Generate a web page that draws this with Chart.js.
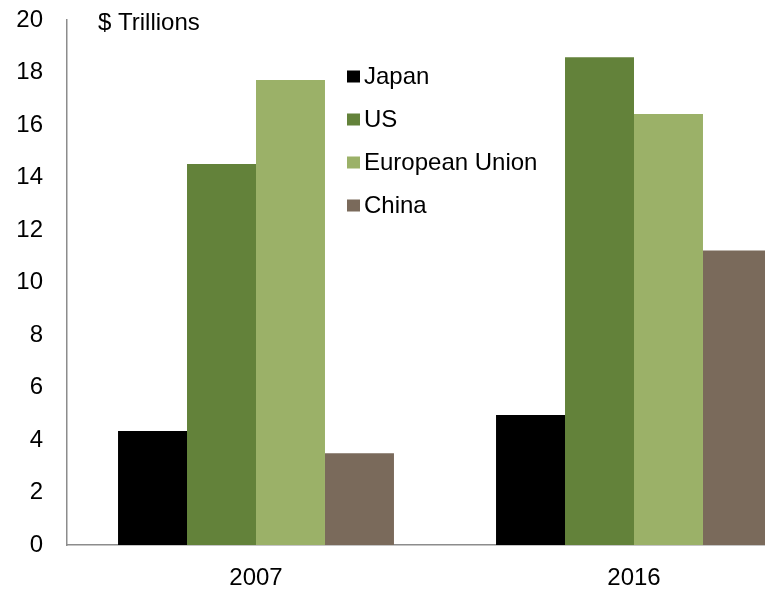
<!DOCTYPE html>
<html>
<head>
<meta charset="utf-8">
<script src="https://cdn.jsdelivr.net/npm/chart.js@4/dist/chart.umd.min.js"></script>
<style>
  html, body { margin: 0; padding: 0; background: #fff; overflow: hidden; }
  #wrap { position: relative; width: 830px; height: 589px; }
</style>
</head>
<body>
<div id="wrap"><canvas id="gdp"></canvas></div>
<script>
    const years = ['2007', '2016'];
    const japan = [4.34, 4.95];
    const us = [14.51, 18.58];
    const eu = [17.71, 16.42];
    const china = [3.50, 11.22];
    const yTicks = [0, 2, 4, 6, 8, 10, 12, 14, 16, 18, 20];

    const seriesNames = ['Japan', 'US', 'European Union', 'China'];
    const seriesColors = ['#000000', '#63823a', '#9bb168', '#7a6a5b'];
    const seriesData = [japan, us, eu, china];

    const FONT = 'Liberation Sans, Arial, sans-serif';
    const axisGray = '#8c8c8c';

    // legend and unit caption sit inside the plot, drawn by hand
    const overlay = {
        id: 'overlay',
        afterDraw(chart) {
            const ctx = chart.ctx;
            ctx.save();
            ctx.font = '24px ' + FONT;
            ctx.fillStyle = '#000';
            ctx.textBaseline = 'middle';
            ctx.fillText('$ Trillions', 98, 23);
            chart.data.datasets.forEach((ds, i) => {
                const y = 76.5 + i * 43;
                ctx.fillStyle = ds.backgroundColor;
                ctx.fillRect(347, y - 6, 13, 12);
                ctx.fillStyle = '#000';
                ctx.fillText(ds.label, 364, y + 1);
            });
            ctx.restore();
        }
    };

    new Chart(document.getElementById('gdp'), {
        type: 'bar',
        data: {
            labels: years,
            datasets: seriesNames.map((name, i) => ({
                label: name,
                data: seriesData[i],
                backgroundColor: seriesColors[i],
                borderWidth: 0,
                barPercentage: 1,
                categoryPercentage: 0.73,
            })),
        },
        options: {
            responsive: true,
            maintainAspectRatio: false,
            animation: false,
            layout: { padding: { top: 20, right: 7, left: 0, bottom: 0 } },
            plugins: {
                legend: { display: false },
                tooltip: { enabled: false },
            },
            scales: {
                x: {
                    grid: { display: false, drawTicks: false },
                    border: { display: true, color: axisGray, width: 1.5 },
                    ticks: { color: '#000', font: { family: FONT, size: 24 }, padding: 19 },
                    afterFit: s => { s.height = 44; },
                },
                y: {
                    min: 0,
                    max: 20,
                    afterBuildTicks: s => { s.ticks = yTicks.map(v => ({ value: v })); },
                    grid: { display: false, drawTicks: false },
                    border: { display: true, color: axisGray, width: 1.5 },
                    ticks: { color: '#000', font: { family: FONT, size: 24 }, padding: 24 },
                    // keep the plot top flush with the "20" label instead of padding for it
                    afterFit: s => { s.width = 67; s.paddingTop = 0; s.paddingBottom = 0; },
                },
            },
        },
        plugins: [overlay],
    });
</script>
</body>
</html>
